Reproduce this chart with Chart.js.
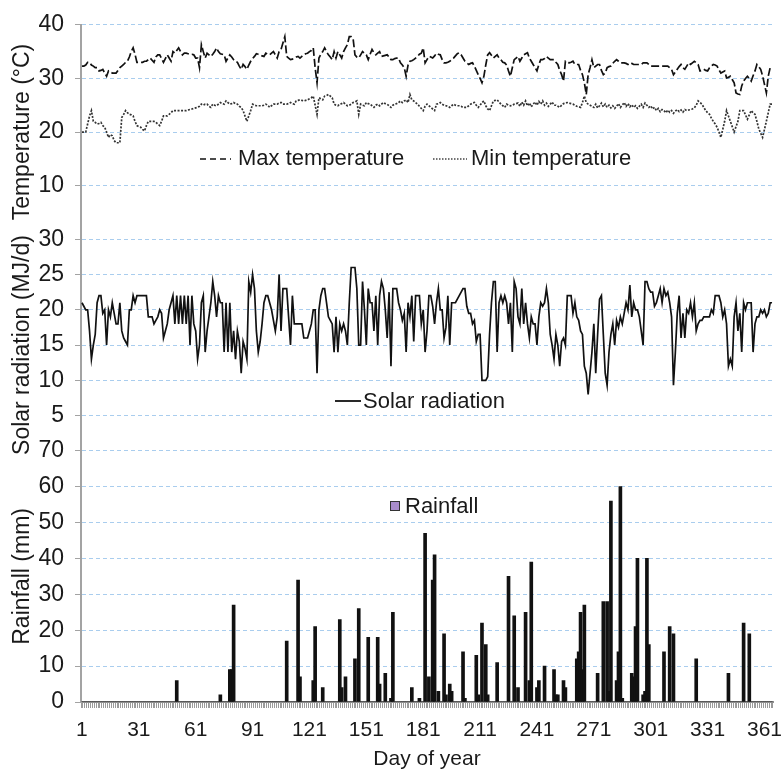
<!DOCTYPE html>
<html>
<head>
<meta charset="utf-8">
<title>Temperature, solar radiation and rainfall by day of year</title>
<script src="https://cdn.jsdelivr.net/npm/chart.js@4.4.1/dist/chart.umd.min.js"></script>
<style>
  html, body { margin: 0; padding: 0; background: #fff; }
  #wrap { width: 783px; height: 772px; }
</style>
</head>
<body>
<div id="wrap"><canvas id="chart" width="783" height="772"></canvas></div>
<script>
// day of year 1..365 (categories)
const days = [];
for (let d = 1; d <= 365; d++) days.push(d);

const xTickLabels = [1, 31, 61, 91, 121, 151, 181, 211, 241, 271, 301, 331, 361];

// daily maximum temperature (°C)
const maxTemp = [
  32.3, 32.3, 32.5, 33, 33, 32.5, 32.3, 32, 32, 31.4,
  31.5, 31.7, 31, 30.4, 31.4, 31.2, 31, 31, 31, 31.5,
  32, 32.3, 32.6, 33, 33.2, 34, 35, 35.7, 34.5, 33,
  33, 33, 33, 33.2, 33.2, 33.5, 33.8, 33.4, 33, 34,
  34.4, 34.4, 33.7, 33, 33.7, 34.4, 33.8, 33.2, 35, 34.7,
  35.2, 35.7, 35, 34.4, 34.7, 34.7, 34.6, 34.5, 34.5, 34.4,
  33.8, 33.8, 32, 36.3, 35, 33.8, 34.7, 34.4, 34.1, 34.5,
  35, 35.7, 35, 34.6, 34.5, 34.4, 33.2, 33.8, 34.4, 34,
  33.5, 33.2, 33, 32.3, 31.7, 32.6, 32.2, 31.7, 32.5, 33.2,
  33.7, 34.1, 34.6, 34.5, 34.4, 34.2, 34.1, 34.7, 34.5, 34.4,
  34.7, 35, 34.4, 33.8, 35, 35.4, 36.6, 37.8, 34.1, 33.8,
  33.5, 33.6, 33.8, 34, 34.1, 33.8, 34.1, 34.4, 34.6, 34.7,
  35, 35.2, 35.7, 32, 29.2, 33.8, 34.5, 35, 35.7, 35,
  34.4, 34, 33.5, 35, 33.8, 35, 34.4, 33.8, 35, 35.7,
  36.3, 37.8, 37.8, 37.5, 34.4, 34, 33.8, 34.4, 35, 34.7,
  34.4, 33.5, 34.5, 35.4, 34.8, 34.4, 34.7, 35, 34.1, 34.2,
  34.3, 34.4, 34, 33.5, 33.5, 33.7, 33.8, 33.8, 32.9, 32.5,
  32, 30.4, 32.5, 33.2, 33.3, 33.5, 33.8, 34.1, 34.5, 34.7,
  35.7, 32.9, 33.5, 34.1, 34, 33.8, 34.2, 34.7, 34.5, 34.4,
  33.5, 32.9, 32.9, 33, 33.2, 33.5, 33.8, 34.2, 34.6, 34.8,
  34.4, 33.8, 33.2, 32.9, 32.6, 32.8, 32.9, 32.3, 31.5, 30.7,
  30, 29.2, 30.4, 32.5, 34.4, 34.8, 34.3, 33.8, 34.1, 34.4,
  33.8, 33.5, 33, 32.9, 32.5, 31.4, 30.4, 32, 33.5, 33.8,
  34.1, 33.2, 33.8, 34.4, 34.6, 34.8, 33.8, 33.2, 32.6, 32,
  31.4, 32.6, 33.5, 33.5, 33.7, 34.1, 33.8, 33.5, 33.5, 33.5,
  33, 32.6, 31.5, 30.7, 29.5, 33.2, 33, 32.9, 33, 33.2,
  32.6, 32.6, 32.6, 31.5, 30.7, 29.2, 27, 30.7, 32, 33.5,
  32, 32.3, 32.6, 32.6, 31.5, 30.7, 31, 32, 32.2, 32.3,
  32.8, 33.2, 33.5, 33.2, 32.9, 32.9, 32.9, 32.8, 32.6, 32.9,
  32.8, 32.6, 32.6, 32.6, 32.6, 32.6, 32.9, 32.9, 32.9, 32.6,
  32.3, 32.3, 32.3, 32.3, 32.3, 32.3, 32.3, 32.3, 32.3, 32.3,
  32, 31.7, 30.7, 31.2, 31.7, 32.2, 32.6, 32, 31.7, 32.3,
  32.9, 32.6, 32.9, 33.2, 32.9, 32.6, 31.4, 31.5, 31.7, 31.5,
  31.4, 32, 32.3, 32.6, 32.5, 32.3, 31.6, 31, 31.2, 31.4,
  30.1, 30.2, 30.4, 29.8, 29.2, 27.3, 27.1, 27, 28.6, 29.5,
  30, 30.4, 30, 29.5, 30.5, 31.4, 32.6, 32.2, 31.7, 30.5,
  28.9, 27.3, 30.4, 32, 32
];

// daily minimum temperature (°C)
const minTemp = [
  20, 20, 20, 21.5, 23, 24, 22, 21.8, 21.5, 21.6,
  21.8, 21.2, 20.9, 20, 19, 19.5, 19.3, 18.4, 18, 18,
  18, 22.7, 23.3, 24, 23.6, 23.3, 23.2, 23, 22, 21.2,
  21, 20.9, 20.5, 20.2, 21.2, 22, 22, 22, 22, 21.8,
  21.5, 21.2, 22, 23, 23, 23, 23.3, 23.6, 24, 24,
  24, 24, 24, 24, 24, 24, 24.1, 24.2, 24.3, 24.4,
  24.5, 24.6, 24.8, 25.2, 25, 25.2, 25.2, 24.8, 24.6, 25.2,
  25, 24.9, 25.2, 25.5, 25.3, 25.2, 25.8, 25.5, 25.2, 25.3,
  25.5, 25.3, 25.2, 24.8, 24.6, 24, 23, 22, 23, 24,
  25.2, 25, 24.9, 24.9, 24.9, 24.9, 25, 25.2, 25, 24.6,
  24.9, 25.2, 25.2, 25.2, 25.4, 25.5, 25.2, 25.2, 25.2, 25.3,
  25.5, 25.3, 25.2, 25.8, 25.9, 26, 25.9, 25.8, 25.9, 26,
  26.2, 26.4, 26.7, 25, 23.3, 26.4, 26.2, 26, 26.7, 26.8,
  27, 26.7, 26.4, 25.2, 25, 24.9, 25.2, 25.3, 25.5, 25.2,
  24.9, 25, 25.2, 25.5, 25.6, 25.8, 23.3, 25.2, 25, 24.9,
  25.5, 25.3, 25.2, 24.9, 24.6, 25, 25.2, 24.9, 25.2, 25.5,
  25.3, 25.2, 24.9, 24.6, 25, 25.2, 25.3, 25.5, 25.8, 25.5,
  25.8, 26, 25.5, 27, 26, 25.8, 25.5, 25.2, 24.8, 24.4,
  24, 24.8, 25.2, 24.9, 24.6, 24.3, 24, 25.2, 25.3, 25.5,
  25.2, 25, 24.9, 24.8, 24.6, 24.9, 25.2, 25, 24.9, 24.9,
  24.8, 24.6, 24.6, 24.6, 24.9, 25.2, 25.4, 25.5, 25, 24.6,
  25, 25.5, 25.8, 24.9, 24.3, 24, 24.9, 25.8, 25.9, 26,
  25.6, 25.2, 24.9, 24.6, 25.2, 25, 24.9, 25, 25.2, 25.3,
  25.4, 24.8, 25.6, 25, 25.8, 24.9, 25.4, 24.7, 25.2, 25.6,
  25, 25.7, 25.2, 25.8, 25, 25.4, 24.8, 25.2, 25.6, 25,
  25, 24.8, 24.6, 25, 25.3, 25.4, 25.5, 25.4, 25.3, 25.2,
  25, 24.8, 24.7, 24.6, 25.5, 26.7, 25.5, 25.2, 25, 24.8,
  24.6, 25.2, 24.5, 24.9, 25.4, 24.7, 25.2, 24.6, 25, 24.5,
  24.9, 24.4, 24.8, 25.3, 24.6, 25, 25.5, 24.8, 25.3, 24.7,
  25.1, 24.6, 24.9, 24.4, 24.8, 25.2, 24.6, 25.4, 25, 24.6,
  24.9, 24.3, 24.6, 24, 24.4, 23.8, 24.2, 24, 23.6, 24.1,
  23.7, 24, 23.5, 23.9, 24.2, 23.8, 24.1, 23.7, 24.2, 24,
  24.1, 24.2, 24.3, 24.5, 25, 25.8, 25.5, 25.2, 24.6, 24,
  23.6, 23.3, 22.6, 22, 21.5, 20.9, 20, 19, 20.5, 22,
  24, 23, 22, 21, 20, 21, 22, 24, 24, 24,
  23.2, 22.4, 23.2, 24, 23.6, 23.3, 22, 20.6, 19.8, 19,
  20.5, 22, 23.6, 25.2, 25.2
];

// daily solar radiation (MJ/d)
const solar = [
  21, 20.5, 20, 20, 17, 13, 15, 16.5, 21, 22,
  22, 19.5, 20, 15, 20, 19, 21, 19.5, 18, 18,
  21, 17, 16, 15.5, 15, 20, 20, 22, 21, 22,
  22, 22, 22, 22, 22, 19, 19, 19, 18, 18.5,
  19, 20, 19.5, 16, 17, 18, 20, 21, 22, 18,
  22, 18, 22, 18, 22, 18, 22, 15, 22, 18,
  17, 13, 15, 21, 22, 14, 17, 19, 21, 24,
  22, 19, 22, 21, 21, 14, 21, 14, 21, 14,
  17, 13, 17, 15.5, 11, 15.5, 14.5, 13, 24, 22.5,
  25, 23, 17, 14, 15.5, 18, 21, 22, 22, 21,
  20, 18.5, 17, 19, 25, 17, 23, 23, 23, 19,
  15, 22, 18, 18, 18, 18, 18, 16, 16, 16,
  17, 18, 20, 20, 11, 20, 22, 23, 23, 21,
  19, 18.5, 18, 14, 19, 14, 18, 17, 18, 17,
  15, 21, 26, 26, 26, 23, 15, 15, 24, 20,
  15, 23, 21, 21, 17, 22, 15, 22, 24, 23,
  20, 16, 22.5, 12, 23, 23, 23, 21, 20, 18.5,
  19.5, 14, 21, 19, 22, 15.5, 22, 22, 22, 18,
  20, 14, 17, 22, 22, 20.5, 18, 21, 23, 20,
  20, 16, 17.5, 22, 15, 21, 21, 21, 21.5, 22,
  22.5, 23, 23, 20.5, 19.5, 19.5, 18, 18.5, 15.5, 16.5,
  16.5, 10, 10, 10, 10.5, 16.5, 21, 24, 24, 14,
  21, 22, 21, 22, 21, 18, 21, 14, 24, 23,
  19, 18, 23, 18, 21, 18, 16, 19, 18, 18,
  15, 19, 21, 20.5, 21, 23, 21, 16.5, 15, 13,
  16.5, 15, 12, 15.5, 16, 15, 22, 22, 22, 19.5,
  21, 19, 18.5, 17, 16.5, 12, 11, 8, 11, 14,
  18, 11, 16.5, 21.5, 22, 16.5, 11, 9.3, 14, 16.5,
  18, 15, 18.5, 17.5, 19, 18, 19.5, 21, 20, 23.5,
  19, 21, 20, 20, 19, 17, 15, 24, 24, 23,
  22.5, 22.5, 20.5, 21, 22, 23, 21, 23, 22, 22.5,
  21, 19, 9.3, 14, 19.5, 22, 16, 19.5, 16, 20,
  19.5, 21, 19, 21, 17, 18, 18.5, 18.5, 19, 19,
  19, 19, 20, 19.5, 22, 22, 22, 21, 19, 20,
  18, 12, 13, 12, 19, 21, 17, 19.5, 14, 21,
  20, 21, 21, 21, 14, 18, 19, 19, 20, 19.5,
  20, 19, 19.5, 21, 21
];

// rainy days and rainfall (mm); all other days are dry
const rainDays = [
  51, 74, 79, 80, 81, 109, 115, 116, 123, 124, 128, 137, 138, 140, 145, 147,
  152, 157, 158, 161, 164, 165, 175, 179, 182, 184, 186, 187, 189, 192, 193,
  195, 196, 202, 203, 209, 210, 212, 214, 215, 220, 226, 229, 231, 235, 237,
  238, 241, 242, 245, 250, 251, 252, 255, 256, 262, 263, 264, 265, 266, 273,
  276, 278, 279, 280, 283, 284, 285, 286, 291, 292, 293, 294, 297, 298, 299,
  300, 308, 311, 313, 325, 342, 350, 353
];
const rainAmounts = [
  6, 2, 9, 9, 27, 17, 34, 7, 6, 21, 4, 23, 4, 7, 12, 26,
  18, 18, 5, 8, 1, 25, 4, 1, 47, 7, 34, 41, 3, 19, 2,
  5, 3, 14, 1, 13, 2, 22, 16, 2, 11, 35, 24, 4, 25, 6,
  39, 4, 6, 10, 9, 2, 2, 6, 4, 12, 14, 25, 9, 27, 8,
  28, 28, 3, 56, 6, 14, 60, 1, 8, 7, 21, 40, 2, 3, 40,
  16, 14, 21, 19, 12, 8, 22, 19
];

const rainfall = days.map(() => 0);
rainDays.forEach((d, i) => { rainfall[d - 1] = rainAmounts[i]; });

const FONT = "'Liberation Sans', Arial, Helvetica, sans-serif";
const INK = "#1a1a1a";
const GRID = "#a9cdee";
const AXIS = "#a3a3a3";

function yAxis(min, max, step, title, order, weight, hideZero) {
  return {
    position: "left",
    stack: "panels",
    stackWeight: weight,
    weight: order,
    min: min,
    max: max,
    ticks: {
      stepSize: step,
      autoSkip: false,
      color: INK,
      padding: 11,
      font: { family: FONT, size: 23 },
      callback: v => (hideZero && v === 0) ? "" : v
    },
    grid: { color: GRID, lineWidth: 1, tickColor: AXIS, tickLength: 6 },
    border: { color: AXIS, width: 2, dash: [4, 3] },
    title: {
      display: true,
      text: title,
      color: INK,
      font: { family: FONT, size: 23 },
      padding: { top: 9, bottom: 0 }
    },
    afterFit: s => { s.width = 81; }
  };
}

// free-floating legend labels drawn inside the plot
const panelLegends = {
  id: "panelLegends",
  afterDraw(chart) {
    const ctx = chart.ctx;
    const seg = (x1, x2, y) => { ctx.beginPath(); ctx.moveTo(x1, y); ctx.lineTo(x2, y); ctx.stroke(); };
    ctx.save();
    ctx.font = "22px " + FONT;
    ctx.textBaseline = "middle";
    ctx.fillStyle = INK;
    ctx.strokeStyle = "#111";

    ctx.lineWidth = 1.6;
    ctx.setLineDash([6, 4]);
    seg(200, 231, 159);
    ctx.fillText("Max temperature", 238, 159);

    ctx.strokeStyle = "#444";
    ctx.lineWidth = 1.4;
    ctx.setLineDash([1.5, 1.5]);
    seg(433, 467, 159);
    ctx.fillText("Min temperature", 471, 159);

    ctx.strokeStyle = "#111";
    ctx.lineWidth = 1.8;
    ctx.setLineDash([]);
    seg(335, 361, 401);
    ctx.fillText("Solar radiation", 363, 402);

    ctx.fillStyle = "#a98ccb";
    ctx.fillRect(390, 501, 10, 10);
    ctx.strokeStyle = "#333";
    ctx.lineWidth = 1;
    ctx.strokeRect(390.5, 501.5, 9, 9);
    ctx.fillStyle = INK;
    ctx.fillText("Rainfall", 405, 507);
    ctx.restore();
  }
};

new Chart(document.getElementById("chart"), {
  type: "bar",
  data: {
    labels: days,
    datasets: [
      {
        type: "line",
        label: "Max temperature",
        data: maxTemp,
        yAxisID: "yT",
        borderColor: "#111",
        borderWidth: 1.7,
        borderDash: [8, 3],
        pointRadius: 0,
        tension: 0
      },
      {
        type: "line",
        label: "Min temperature",
        data: minTemp,
        yAxisID: "yT",
        borderColor: "#333",
        borderWidth: 1.7,
        borderDash: [2, 1.5],
        pointRadius: 0,
        tension: 0
      },
      {
        type: "line",
        label: "Solar radiation",
        data: solar,
        yAxisID: "yS",
        borderColor: "#111",
        borderWidth: 1.7,
        pointRadius: 0,
        tension: 0
      },
      {
        type: "bar",
        label: "Rainfall",
        data: rainfall,
        yAxisID: "yR",
        backgroundColor: "#111",
        barThickness: 3
      }
    ]
  },
  options: {
    responsive: false,
    animation: false,
    layout: { padding: { top: 20, right: 10, bottom: 0, left: 0 } },
    plugins: {
      legend: { display: false },
      tooltip: { enabled: false }
    },
    scales: {
      x: {
        ticks: {
          autoSkip: false,
          maxRotation: 0,
          color: INK,
          padding: 10,
          font: { family: FONT, size: 21 },
          callback: (v, i) => xTickLabels.includes(days[i]) ? String(days[i]) : ""
        },
        grid: { drawOnChartArea: false, tickColor: "#9a9a9a", tickLength: 6 },
        border: { color: "#8f8f8f", width: 2 },
        title: {
          display: true,
          text: "Day of year",
          color: INK,
          font: { family: FONT, size: 21 },
          padding: { top: 0, bottom: 0 }
        },
        afterFit: s => { s.height = 70; }
      },
      yT: yAxis(0, 40, 10, "Temperature (°C)", 3, 216, true),
      yS: yAxis(0, 30, 5, "Solar radiation (MJ/d)", 2, 213, true),
      yR: yAxis(0, 70, 10, "Rainfall (mm)", 1, 253, false)
    }
  },
  plugins: [panelLegends]
});
</script>
</body>
</html>
